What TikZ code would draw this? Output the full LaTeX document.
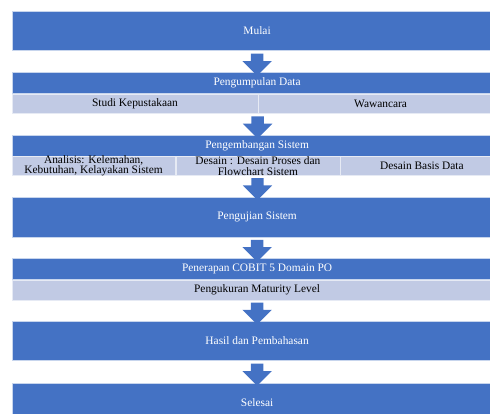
\documentclass[tikz,border=0pt]{standalone}
\usepackage{fontspec}
\setmainfont{Liberation Serif}
\usetikzlibrary{shapes.arrows}

\definecolor{boxblue}{RGB}{68,114,196}
\definecolor{boxlight}{RGB}{193,202,228}

\begin{document}
\begin{tikzpicture}[x=1pt, y=-1pt,
    mainbox/.style={rectangle, fill=boxblue, draw=white!70!boxblue, line width=0.5pt,
      text=white, inner sep=0pt, minimum width=490.3pt, anchor=north west,
      font=\fontsize{11.4}{10.7}\selectfont},
    subbox/.style={rectangle, fill=boxlight, draw=white!60!boxlight, line width=0.5pt,
      text=black, inner sep=0pt, anchor=north west,
      font=\fontsize{11.4}{10.7}\selectfont},
    subtext/.style={align=center, text=black, inner sep=0pt,
      font=\fontsize{11.4}{10.7}\selectfont},
    flowarrow/.style={single arrow, fill=boxblue, draw=none, rotate=-90,
      inner xsep=0pt, inner ysep=6pt, minimum height=22pt,
      single arrow head extend=8.5pt, single arrow tip angle=90}]

    \useasboundingbox (0,0) rectangle (490,414);
    \clip (0,0) rectangle (490,414);

    % blok utama
    \node[mainbox, minimum height=39.5pt] (mulai) at (11.7,11) {Mulai};

    \node[mainbox, minimum height=21pt] (pengumpulan) at (11.7,72.3) {Pengumpulan Data};
    \node[subbox, minimum width=246pt, minimum height=19.4pt] (studi)
      at (pengumpulan.south west) {Studi Kepustakaan};
    \node[subbox, minimum width=244.3pt, minimum height=19.4pt] (wawancara)
      at (studi.north east) {Wawancara};

    \node[mainbox, minimum height=21pt] (pengembangan) at (11.7,135) {Pengembangan Sistem};
    \node[subbox, minimum width=163.3pt, minimum height=18.3pt,
      label={[subtext]center:{Analisis: Kelemahan,\\Kebutuhan, Kelayakan Sistem}}] (analisis)
      at (pengembangan.south west) {};
    \node[subbox, minimum width=164.3pt, minimum height=18.3pt,
      label={[subtext]center:{Desain : Desain Proses dan\\Flowchart Sistem}}] (desain)
      at (analisis.north east) {};
    \node[subbox, minimum width=162.7pt, minimum height=18.3pt] (basisdata)
      at (desain.north east) {Desain Basis Data};

    \node[mainbox, minimum height=40pt] (pengujian) at (11.7,196.7) {Pengujian Sistem};

    \node[mainbox, minimum height=21pt] (penerapan) at (11.7,258.3) {Penerapan COBIT 5 Domain PO};
    \node[subbox, minimum width=490.3pt, minimum height=20pt] (maturity)
      at (penerapan.south west) {Pengukuran Maturity Level};

    \node[mainbox, minimum height=39.3pt] (hasil) at (11.7,320.7) {Hasil dan Pembahasan};

    \node[mainbox, minimum height=39.5pt] (selesai) at (11.7,382.7) {Selesai};

    % panah
    \path (mulai.south) -- (pengumpulan.north) node[flowarrow, midway] {};
    \path (studi.south east) -- (pengembangan.north) node[flowarrow, midway] {};
    \path (desain.south) -- (pengujian.north) node[flowarrow, midway] {};
    \path (pengujian.south) -- (penerapan.north) node[flowarrow, midway] {};
    \path (maturity.south) -- (hasil.north) node[flowarrow, midway] {};
    \path (hasil.south) -- (selesai.north) node[flowarrow, midway] {};

\end{tikzpicture}
\end{document}
